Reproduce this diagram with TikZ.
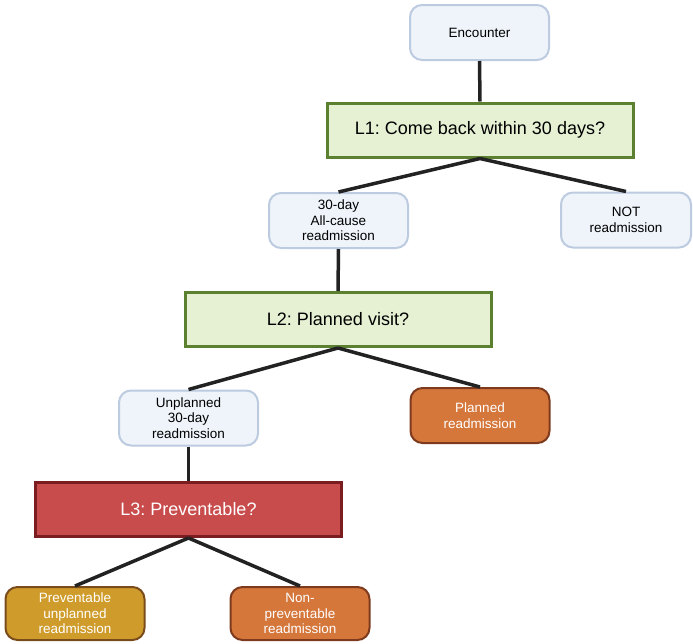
\documentclass[tikz,border=0pt]{standalone}
\usepackage{fontspec}
\setmainfont{Liberation Sans}
\usepackage{xcolor}
\usepackage{tikz}
\frenchspacing

\definecolor{paleblue}{HTML}{EEF4FA}
\definecolor{paleedge}{HTML}{BCCBDF}
\definecolor{palegreen}{HTML}{E6F1D4}
\definecolor{greenedge}{HTML}{5B8030}
\definecolor{redfill}{HTML}{C94C4D}
\definecolor{rededge}{HTML}{7A1C20}
\definecolor{orangefill}{HTML}{D5763B}
\definecolor{orangeedge}{HTML}{7E3A1C}
\definecolor{goldfill}{HTML}{CF9C2B}
\definecolor{goldedge}{HTML}{7A4C1C}
\definecolor{linkgray}{HTML}{222222}

\begin{document}
\begin{tikzpicture}[x=1pt,y=-1pt,
    outcome/.style={draw=paleedge,fill=paleblue,line width=2pt,rounded corners=12pt,
        minimum width=139pt,minimum height=55pt,align=center,font=\fontsize{13.5}{15.5}\selectfont},
    question/.style={draw=greenedge,fill=palegreen,line width=3pt,
        minimum width=306pt,minimum height=54pt,font=\fontsize{18}{21}\selectfont},
    endpoint/.style={outcome,draw=orangeedge,fill=orangefill,text=white},
    link/.style={linkgray,line width=3.5pt}]
\useasboundingbox (0,0) rectangle (693,643);

% Level 1
\node[outcome] (encounter) at (479.5,32.5) {Encounter};
\node[question] (lone) at (480,130) {L1: Come back within 30 days?};
\node[outcome] (allcause) at (338.5,220.5) {30-day\\All-cause\\readmission};
\node[outcome,minimum width=130pt] (notread) at (626,220) {NOT\\readmission};

% Level 2
\node[question] (ltwo) at (338,319.5) {L2: Planned visit?};
\node[outcome] (unplanned) at (188.5,418) {Unplanned\\30-day\\readmission};
\node[endpoint] (planned) at (480,415.5) {Planned\\readmission};

% Level 3
\node[question,draw=rededge,fill=redfill,text=white] (lthree) at (188.5,509.5) {L3: Preventable?};
\node[endpoint,draw=goldedge,fill=goldfill,minimum height=53pt] (prevent) at (75,613.5) {Preventable\\unplanned\\readmission};
\node[endpoint,minimum height=53pt] (nonprev) at (300,613.5) {Non-\\preventable\\readmission};

% Connectors
\draw[link] (encounter.south) -- (lone.north);
\foreach \a/\b in {lone/allcause, lone/notread, allcause/ltwo, ltwo/unplanned,
                   ltwo/planned, unplanned/lthree, lthree/prevent, lthree/nonprev}
    \draw[link] (\a.south) -- (\b.north);

\end{tikzpicture}
\end{document}
